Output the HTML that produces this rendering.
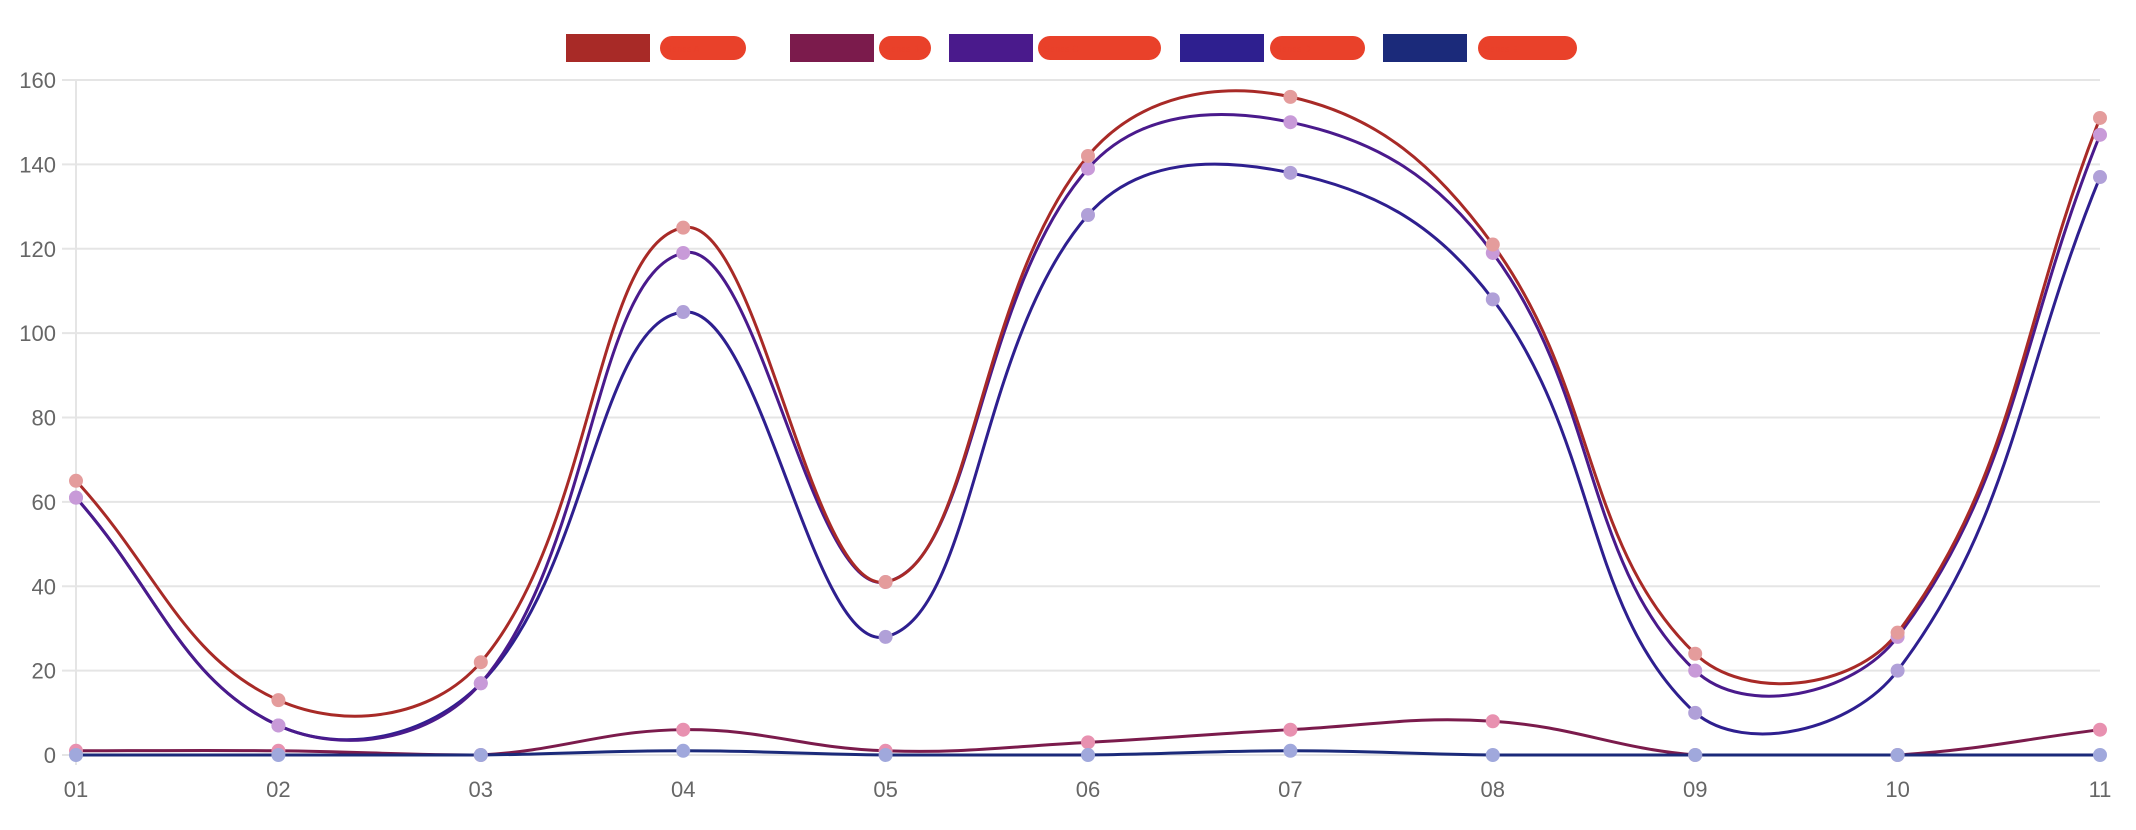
<!DOCTYPE html>
<html><head><meta charset="utf-8"><style>
html,body{margin:0;padding:0;background:#fff;}
svg{display:block;font-family:"Liberation Sans",sans-serif;}
</style></head><body>
<svg id="chart" width="2136" height="830" viewBox="0 0 2136 830" xmlns="http://www.w3.org/2000/svg">
<g id="grid"></g>
<g id="legend"></g>
<g id="series"></g>
</svg>
<script>
const categories = ["01","02","03","04","05","06","07","08","09","10","11"];
const yTicks = [0,20,40,60,80,100,120,140,160];
const seriesA = [65,13,22,125,41,142,156,121,24,29,151];
const seriesB = [1,1,0,6,1,3,6,8,0,0,6];
const seriesC = [61,7,17,119,41,139,150,119,20,28,147];
const seriesD = [61,7,17,105,28,128,138,108,10,20,137];
const seriesE = [0,0,0,1,0,0,1,0,0,0,0];
const seriesNames = ["Series A","Series B","Series C","Series D","Series E"];

const NS="http://www.w3.org/2000/svg";
const X0=76,X1=2100,Y0=755,Y1=80,YMAX=160;
function xs(i){return X0+(X1-X0)*i/(categories.length-1);}
function ys(v){return Y0-(Y0-Y1)*v/YMAX;}
function mk(t,a,p){const e=document.createElementNS(NS,t);for(const k in a)e.setAttribute(k,a[k]);p.appendChild(e);return e;}

const grid=document.getElementById('grid');
yTicks.forEach(v=>{
  const l=mk('line',{x1:62,x2:X1,y1:ys(v),y2:ys(v),stroke:'#e5e5e5','stroke-width':2},grid);
  
  
  const t=mk('text',{x:56,y:ys(v)+8,'text-anchor':'end','font-size':22,fill:'#666'},grid);
  t.textContent=v;
  
  
});
const ax=mk('line',{x1:X0,x2:X0,y1:Y1,y2:Y0+10,stroke:'#e5e5e5','stroke-width':2},grid);


categories.forEach((c,i)=>{
  const t=mk('text',{x:xs(i),y:797,'text-anchor':'middle','font-size':22,fill:'#666'},grid);
  t.textContent=c;
  
  
});

const defs=[
 {d:seriesB,c:'#7b1b4c',p:'#e891b0'},
 {d:seriesE,c:'#1b2a7a',p:'#a0a8dc'},
 {d:seriesD,c:'#2e1f8f',p:'#b0a0d8'},
 {d:seriesC,c:'#4a1a8c',p:'#c89ad8'},
 {d:seriesA,c:'#a82a27',p:'#e49c9c'}
];
function pathFor(data){
  const pts=data.map((v,i)=>[xs(i),ys(v)]);const t=0.4;const cps=[];
  for(let i=0;i<pts.length;i++){
    const p=pts[Math.max(0,i-1)],c=pts[i],n=pts[Math.min(pts.length-1,i+1)];
    const d01=Math.hypot(c[0]-p[0],c[1]-p[1]),d12=Math.hypot(n[0]-c[0],n[1]-c[1]);
    let s01=d01/(d01+d12||1),s12=d12/(d01+d12||1);
    const fa=t*s01,fb=t*s12;
    let a=[c[0]-fa*(n[0]-p[0]),c[1]-fa*(n[1]-p[1])],b=[c[0]+fb*(n[0]-p[0]),c[1]+fb*(n[1]-p[1])];
    a[1]=Math.min(Y0,Math.max(Y1,a[1]));b[1]=Math.min(Y0,Math.max(Y1,b[1]));
    cps.push([a,b]);
  }
  let s='M'+pts[0][0]+','+pts[0][1];
  for(let i=1;i<pts.length;i++){const a=cps[i-1][1],b=cps[i][0];s+=' C'+a[0]+','+a[1]+' '+b[0]+','+b[1]+' '+pts[i][0]+','+pts[i][1];}
  return s;
}
const sg=document.getElementById('series');
defs.forEach((s,k)=>{
  const pth=mk('path',{d:pathFor(s.d),fill:'none',stroke:s.c,'stroke-width':3},sg);
  
  
});
defs.forEach(s=>{
  s.d.forEach((v,i)=>{
    const c=mk('circle',{cx:xs(i),cy:ys(v),r:7,fill:s.p},sg);
    
    
  });
});

const lg=document.getElementById('legend');
const legendColors=['#a82a27','#7b1b4c','#4a1a8c','#2e1f8f','#1b2a7a'];
const boxX=[566,790,949,1180,1383];
const blob=[[660,86],[879,52],[1038,123],[1270,95],[1478,99]];
legendColors.forEach((c,i)=>{
  const r=mk('rect',{x:boxX[i],y:34,width:84,height:28,fill:c},lg);
  
  
  const b=mk('rect',{x:blob[i][0],y:36,width:blob[i][1],height:24,rx:12,fill:'#e9412a'},lg);
  
  
  const t=mk('text',{x:blob[i][0]+6,y:52,'font-size':9,fill:'#e9412a'},lg);
  t.textContent=seriesNames[i];
  
  
});
</script>
</body></html>
